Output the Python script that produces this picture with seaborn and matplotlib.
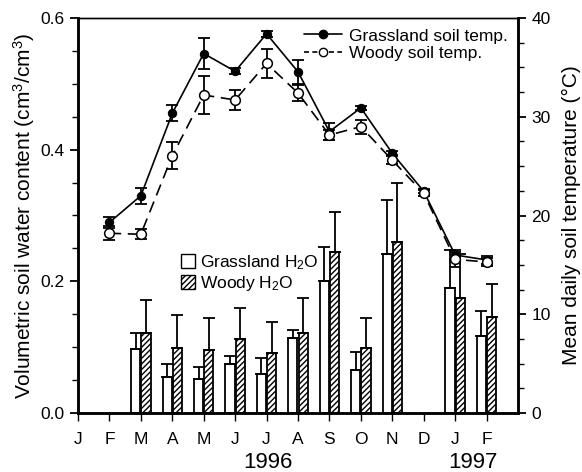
import numpy as np
import pandas as pd
import matplotlib
matplotlib.use("Agg")
import matplotlib.pyplot as plt
import seaborn as sns
from matplotlib.ticker import MultipleLocator
from matplotlib.lines import Line2D
from matplotlib.patches import Patch

nan = np.nan
months = ['J', 'F', 'M', 'A', 'M', 'J', 'J', 'A', 'S', 'O', 'N', 'D', 'J', 'F']
grass_h2o = [nan, nan, 0.097, 0.054, 0.052, 0.075, 0.060, 0.114, 0.200, 0.066, 0.241, nan, 0.190, 0.117]
grass_h2o_err = [nan, nan, 0.025, 0.020, 0.018, 0.012, 0.024, 0.012, 0.052, 0.027, 0.082, nan, 0.057, 0.038]
woody_h2o = [nan, nan, 0.121, 0.099, 0.095, 0.112, 0.091, 0.122, 0.244, 0.098, 0.260, nan, 0.175, 0.146]
woody_h2o_err = [nan, nan, 0.051, 0.050, 0.050, 0.047, 0.047, 0.052, 0.062, 0.047, 0.089, nan, 0.067, 0.050]
grass_temp = [nan, 19.3, 22.0, 30.35, 36.4, 34.6, 38.4, 34.55, 28.5, 30.9, 26.3, 22.45, 16.0, 15.5]
grass_temp_err = [nan, 0.55, 0.8, 0.8, 1.55, 0.3, 0.3, 1.2, 0.9, 0.2, 0.2, 0.2, 0.5, 0.4]
woody_temp = [nan, 18.2, 18.1, 26.05, 32.2, 31.7, 35.4, 32.4, 28.15, 29.0, 25.6, 22.25, 15.55, 15.3]
woody_temp_err = [nan, 0.7, 0.5, 1.35, 1.9, 1.0, 1.45, 0.85, 0.5, 0.7, 0.4, 0.3, 0.75, 0.4]
years = ['1996', '1997']

sns.set_style("ticks")
plt.rcParams['font.family'] = ['Liberation Sans', 'DejaVu Sans']
plt.rcParams['mathtext.fontset'] = 'custom'
plt.rcParams['mathtext.rm'] = 'Liberation Sans'
plt.rcParams['mathtext.it'] = 'Liberation Sans:italic'
plt.rcParams['mathtext.default'] = 'regular'
plt.rcParams['hatch.linewidth'] = 1.0
for k in ['text.color', 'axes.labelcolor', 'xtick.color', 'ytick.color', 'axes.edgecolor']:
    plt.rcParams[k] = 'black'

x = np.arange(len(months))
df = pd.DataFrame({'x': x, 'gt': grass_temp, 'wt': woody_temp})

fig = plt.figure(figsize=(5.82, 4.72), dpi=100)
ax = fig.add_axes([78/582, 1-413/472, 440/582, 395/472])
ax2 = ax.twinx()

bw = 0.29
off = 0.165
ax.bar(x - off, grass_h2o, width=bw, facecolor='white', edgecolor='black', linewidth=1.3,
       yerr=[np.zeros(len(x)), grass_h2o_err], error_kw=dict(ecolor='black', elinewidth=1.3, capsize=4, capthick=1.3))
ax.bar(x + off, woody_h2o, width=bw, facecolor='white', edgecolor='black', linewidth=1.3, hatch='//////',
       yerr=[np.zeros(len(x)), woody_h2o_err], error_kw=dict(ecolor='black', elinewidth=1.3, capsize=4, capthick=1.3))

ax.set_xlim(0, 14)
ax.set_ylim(0, 0.6)
ax.set_xticks(x)
ax.set_xticklabels(months, fontsize=12.5)
ax.yaxis.set_major_locator(MultipleLocator(0.2))
ax.yaxis.set_minor_locator(MultipleLocator(0.05))
ax.yaxis.set_major_formatter(matplotlib.ticker.FormatStrFormatter('%.1f'))
ax.tick_params(axis='y', which='major', length=6, width=1.3, labelsize=12.5, direction='out')
ax.tick_params(axis='y', which='minor', length=4, width=1.0, direction='out')
ax.tick_params(axis='x', length=6, width=1.0, pad=8, direction='out')
ax.set_ylabel('Volumetric soil water content (cm$^3$/cm$^3$)', fontsize=15, labelpad=3)

# temperature
ax2.errorbar(x, grass_temp, yerr=grass_temp_err, fmt='none', ecolor='black', elinewidth=1.3, capsize=4, capthick=1.3, zorder=3)
ax2.errorbar(x, woody_temp, yerr=woody_temp_err, fmt='none', ecolor='black', elinewidth=1.3, capsize=4, capthick=1.3, zorder=3)
sns.lineplot(data=df, x='x', y='gt', ax=ax2, color='black', lw=1.2, marker='o', markersize=6,
             markerfacecolor='black', markeredgecolor='black', zorder=4)
sns.lineplot(data=df, x='x', y='wt', ax=ax2, color='black', lw=1.2, marker='o', markersize=7,
             markerfacecolor='white', markeredgecolor='black', markeredgewidth=1.1, zorder=5)
ax2.lines[-1].set_linestyle((0, (7, 4)))
ax2.set_ylim(0, 40)
ax2.set_xlim(0, 14)
ax2.yaxis.set_major_locator(MultipleLocator(10))
ax2.yaxis.set_minor_locator(MultipleLocator(2.5))
ax2.tick_params(axis='y', which='major', length=6, width=1.3, labelsize=12.5, direction='out')
ax2.tick_params(axis='y', which='minor', length=4, width=1.0, direction='out')
ax2.set_ylabel('Mean daily soil temperature (°C)', fontsize=15, labelpad=8)
ax2.set_xlabel('')

for a in (ax, ax2):
    for s in ['left', 'bottom', 'right']:
        a.spines[s].set_linewidth(1.8)
    a.spines['top'].set_linewidth(1.0)
    a.spines['top'].set_visible(True)
    a.spines['right'].set_visible(True)

# legends
h_t = [Line2D([], [], color='black', lw=1.2, marker='o', markersize=6, markerfacecolor='black'),
       Line2D([], [], color='black', lw=1.2, ls=(0, (3, 2)), marker='o', markersize=6, markerfacecolor='white')]
leg1 = ax2.legend(h_t, ['Grassland soil temp.', 'Woody soil temp.'], loc='upper right',
                  bbox_to_anchor=(1.0, 1.0), frameon=False, fontsize=12.5, handlelength=2.2,
                  handletextpad=0.4, labelspacing=0.15, borderaxespad=0.2)
h_w = [Patch(facecolor='white', edgecolor='black', lw=1.0),
       Patch(facecolor='white', edgecolor='black', lw=1.0, hatch='//////')]
ax2.add_artist(leg1)
ax2.legend(h_w, ['Grassland H$_2$O', 'Woody H$_2$O'], loc='upper left',
           bbox_to_anchor=(96/440, 1 - 228/395), frameon=False, fontsize=12.5,
           handlelength=0.8, handleheight=0.9, handletextpad=0.3, labelspacing=0.15, borderaxespad=0)

fig.text(268/582, 1 - 462/472, years[0], ha='center', va='center', fontsize=16)
fig.text(473/582, 1 - 462/472, years[1], ha='center', va='center', fontsize=16)

fig.savefig('out.png', dpi=100)
